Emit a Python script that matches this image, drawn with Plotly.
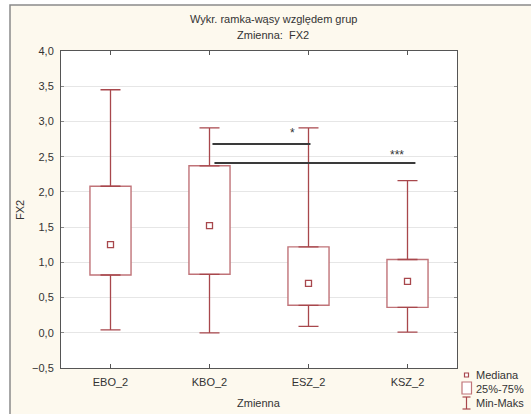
import plotly.graph_objects as go

# ---- data ----
categories = ["EBO_2", "KBO_2", "ESZ_2", "KSZ_2"]
mins = [0.04, 0.00, 0.09, 0.01]
q1 = [0.82, 0.83, 0.39, 0.36]
medians = [1.25, 1.52, 0.70, 0.73]
q3 = [2.08, 2.37, 1.22, 1.04]
maxs = [3.45, 2.91, 2.91, 2.16]

# significance comparisons (start/end positions in category index units, level, label)
sig_x0 = [1.03, 1.05]
sig_x1 = [2.02, 3.08]
sig_y = [2.68, 2.41]
sig_labels = ["*", "***"]
sig_label_x = [1.84, 2.89]
sig_label_y = [2.83, 2.52]

title_line1 = "Wykr. ramka-wąsy względem grup"
title_line2 = "Zmienna:  FX2"
legend_labels = ["Mediana", "25%-75%", "Min-Maks"]

# ---- styling / layout helpers ----
W, H = 531, 414
L, R, T, B = 61, 457, 51, 368
def px2x(px):
    return (px - L) / (R - L)
def px2y(py):
    return (B - py) / (B - T)

RED = "#a8474c"
BOXRED = "#c07378"
FONT = "Liberation Sans, Arial, sans-serif"
TXT = "#333333"

xpos = list(range(len(categories)))

fig = go.Figure()

# boxes (25%-75%)
fig.add_trace(go.Bar(
    x=xpos, y=[b - a for a, b in zip(q1, q3)], base=q1,
    width=0.415, marker=dict(color="white", line=dict(color=BOXRED, width=1.4)),
    showlegend=False, hoverinfo="skip"))

# upper whiskers
fig.add_trace(go.Scatter(
    x=xpos, y=q3, mode="markers",
    marker=dict(size=1, color="rgba(0,0,0,0)"),
    error_y=dict(type="data", symmetric=False,
                 array=[m - q for m, q in zip(maxs, q3)], arrayminus=[0] * 4,
                 color=RED, thickness=1.3, width=10),
    showlegend=False, hoverinfo="skip"))
# lower whiskers
fig.add_trace(go.Scatter(
    x=xpos, y=q1, mode="markers",
    marker=dict(size=1, color="rgba(0,0,0,0)"),
    error_y=dict(type="data", symmetric=False,
                 array=[0] * 4, arrayminus=[q - m for m, q in zip(mins, q1)],
                 color=RED, thickness=1.3, width=10),
    showlegend=False, hoverinfo="skip"))

# medians
fig.add_trace(go.Scatter(
    x=xpos, y=medians, mode="markers",
    marker=dict(symbol="square", size=6, color="white", line=dict(color=RED, width=1.3)),
    showlegend=False, hoverinfo="skip"))

# significance lines
for a, b, yv in zip(sig_x0, sig_x1, sig_y):
    fig.add_trace(go.Scatter(
        x=[a, b], y=[yv, yv], mode="lines",
        line=dict(color="#3a3a3a", width=1.8),
        showlegend=False, hoverinfo="skip"))

annotations = []
for xv, yv, lab in zip(sig_label_x, sig_label_y, sig_labels):
    annotations.append(dict(x=xv, y=yv, xref="x", yref="y", text=lab, showarrow=False,
                            xanchor="center", yanchor="middle",
                            font=dict(family=FONT, size=12, color=TXT)))

def paper_text(text, px, py, xanchor="center", angle=0):
    return dict(x=px2x(px), y=px2y(py), xref="paper", yref="paper", text=text,
                xanchor=xanchor, yanchor="middle", textangle=angle, showarrow=False,
                font=dict(family=FONT, size=11, color=TXT))

# titles
annotations.append(paper_text(title_line1, 273, 19))
annotations.append(paper_text(title_line2, 273, 35))
# axis titles
annotations.append(paper_text("FX2", 20, 210, angle=-90))
annotations.append(paper_text("Zmienna", 259, 403))
# legend texts
for lab, py in zip(legend_labels, [375, 389, 403]):
    annotations.append(paper_text(lab, 474, py, xanchor="left"))

shapes = [
    # outer cream frame
    dict(type="rect", xref="paper", yref="paper", layer="below",
         x0=px2x(10), x1=px2x(560), y0=px2y(440), y1=px2y(5),
         fillcolor="#fdf9ee", line=dict(color="#8a8a8a", width=1.5)),
    # white plot area
    dict(type="rect", xref="paper", yref="paper", layer="below",
         x0=0, x1=1, y0=0, y1=1, fillcolor="white", line=dict(width=0)),
    # legend icons
    dict(type="rect", xref="paper", yref="paper",
         x0=px2x(464.5), x1=px2x(468.5), y0=px2y(377), y1=px2y(373),
         fillcolor="white", line=dict(color=RED, width=1.2)),
    dict(type="rect", xref="paper", yref="paper",
         x0=px2x(462), x1=px2x(471.5), y0=px2y(394), y1=px2y(382),
         fillcolor="white", line=dict(color=BOXRED, width=1.2)),
    dict(type="line", xref="paper", yref="paper",
         x0=px2x(466.5), x1=px2x(466.5), y0=px2y(409), y1=px2y(397),
         line=dict(color=RED, width=1.2)),
    dict(type="line", xref="paper", yref="paper",
         x0=px2x(462.5), x1=px2x(470.5), y0=px2y(397), y1=px2y(397),
         line=dict(color=RED, width=1.2)),
    dict(type="line", xref="paper", yref="paper",
         x0=px2x(462.5), x1=px2x(470.5), y0=px2y(409), y1=px2y(409),
         line=dict(color=RED, width=1.2)),
]

fig.update_layout(
    width=W, height=H,
    margin=dict(l=L, r=W - R, t=T, b=H - B, pad=0),
    paper_bgcolor="white", plot_bgcolor="white",
    separators=",.",
    showlegend=False,
    annotations=annotations, shapes=shapes,
    font=dict(family=FONT, size=11, color=TXT),
)
fig.update_xaxes(
    range=[-0.5, 3.5], tickvals=xpos, ticktext=categories,
    showgrid=False, zeroline=False,
    showline=True, linecolor="#555555", linewidth=1, mirror="ticks",
    ticks="inside", ticklen=4, tickcolor="#555555",
    ticklabelstandoff=4,
    tickfont=dict(family=FONT, size=11, color=TXT),
)
fig.update_yaxes(
    range=[-0.5, 4.0], dtick=0.5, tick0=0, tickformat=".1f",
    showgrid=True, gridcolor="#e6e6e6", gridwidth=1, zeroline=False,
    showline=True, linecolor="#555555", linewidth=1, mirror="ticks",
    ticks="inside", ticklen=3, tickcolor="#888888",
    ticklabelstandoff=4,
    tickfont=dict(family=FONT, size=11, color=TXT),
)

fig.write_html("out.html", config={"displayModeBar": False},
               post_script="document.body.style.margin='0';")
